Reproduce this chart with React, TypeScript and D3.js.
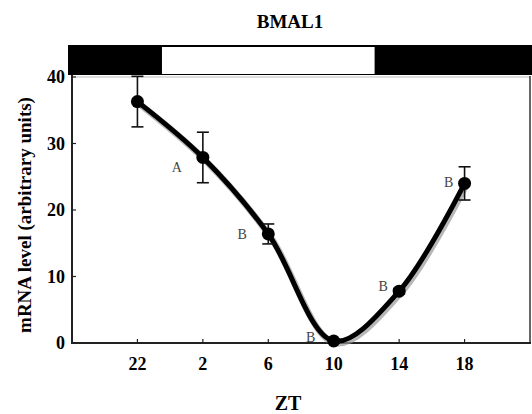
import React from "react";
import * as d3 from "d3";

// ZT hours, with ZT22 of the previous day written as -2
const zt = [-2, 2, 6, 10, 14, 18];
const ztLabels = ["22", "2", "6", "10", "14", "18"];
const mrna = [36.3, 27.9, 16.4, 0.3, 7.8, 24.0];
const sem = [3.8, 3.8, 1.5, 0.3, 0.4, 2.5];
const letters = ["", "A", "B", "B", "B", "B"];
const yTicks = [0, 10, 20, 30, 40];
// lights on / off (ZT)
const lightPhase = [-0.5, 12.5];

const W = 532;
const H = 414;
const left = 72;
const right = 530;
const top = 77;
const bottom = 343;

// where each significance letter sits relative to its point
const letterShift = [
  [0, 0],
  [-26, 15],
  [-26, 5],
  [-23, 1],
  [-16, 0],
  [-16, 4],
];

const App = () => {
  const x = d3.scaleLinear().domain([-6, 22]).range([left, right]);
  const y = d3.scaleLinear().domain([0, 40]).range([bottom, top]);

  const pts: [number, number][] = zt.map((t, i) => [x(t), y(mrna[i])]);
  const line = d3.line().curve(d3.curveCatmullRom.alpha(0.5));
  const d = line(pts) || "";

  const serif = "'Liberation Serif', 'DejaVu Serif', serif";

  return (
    <svg width={W} height={H} style={{ position: "absolute", left: 0, top: 0, background: "#fff" }} fontFamily={serif}>
      <text x={290} y={28} textAnchor="middle" fontWeight="bold" fontSize={19}>
        BMAL1
      </text>

      {/* light / dark bar */}
      <rect x={left - 4} y={45} width={W - left + 4} height={30} fill="#000" />
      <rect
        x={x(lightPhase[0])}
        y={47}
        width={x(lightPhase[1]) - x(lightPhase[0])}
        height={27}
        fill="#fff"
      />

      {/* frame */}
      <line x1={left} x2={right} y1={top} y2={top} stroke="#bbb" strokeWidth={1} />
      <line x1={right} x2={right} y1={top - 1} y2={bottom} stroke="#333" strokeWidth={1.5} />
      <line x1={left} x2={left} y1={top - 2} y2={bottom + 1} stroke="#222" strokeWidth={2} />
      <line x1={left - 1} x2={right + 1} y1={bottom} y2={bottom} stroke="#222" strokeWidth={2} />

      {yTicks.map((v) => (
        <g key={v}>
          <line x1={left} x2={left + 4} y1={y(v)} y2={y(v)} stroke="#222" strokeWidth={1.2} />
          <text x={65} y={y(v) + 6} textAnchor="end" fontWeight="bold" fontSize={18}>
            {v}
          </text>
        </g>
      ))}
      {zt.map((t, i) => (
        <g key={t}>
          <line x1={x(t)} x2={x(t)} y1={bottom} y2={bottom - 4} stroke="#222" strokeWidth={1.2} />
          <text x={x(t)} y={370} textAnchor="middle" fontWeight="bold" fontSize={18}>
            {ztLabels[i]}
          </text>
        </g>
      ))}

      <text
        transform={`translate(31,${(80 + 350) / 2}) rotate(-90)`}
        textAnchor="middle"
        fontWeight="bold"
        fontSize={19}
      >
        mRNA level (arbitrary units)
      </text>
      <text x={288} y={410} textAnchor="middle" fontWeight="bold" fontSize={20}>
        ZT
      </text>

      {/* curve with its soft shadow */}
      <path d={d} transform="translate(1.5,2)" fill="none" stroke="#999" strokeWidth={6.5} opacity={0.7} />
      <path d={d} fill="none" stroke="#000" strokeWidth={5} strokeLinecap="round" />

      {/* error bars */}
      {zt.map((t, i) => (
        <g key={"e" + t} stroke="#111" strokeWidth={1.6}>
          <line x1={x(t)} x2={x(t)} y1={y(mrna[i] + sem[i])} y2={y(mrna[i] - sem[i])} />
          <line x1={x(t) - 6} x2={x(t) + 6} y1={y(mrna[i] + sem[i])} y2={y(mrna[i] + sem[i])} />
          <line x1={x(t) - 6} x2={x(t) + 6} y1={y(mrna[i] - sem[i])} y2={y(mrna[i] - sem[i])} />
        </g>
      ))}

      {pts.map(([px, py], i) => (
        <circle key={"p" + i} cx={px} cy={py} r={6.5} fill="#000" />
      ))}

      {letters.map((l, i) =>
        l ? (
          <text
            key={"l" + i}
            x={pts[i][0] + letterShift[i][0]}
            y={pts[i][1] + letterShift[i][1]}
            textAnchor="middle"
            fontSize={14}
            fill="#444"
          >
            {l}
          </text>
        ) : null
      )}
    </svg>
  );
};

export default App;
